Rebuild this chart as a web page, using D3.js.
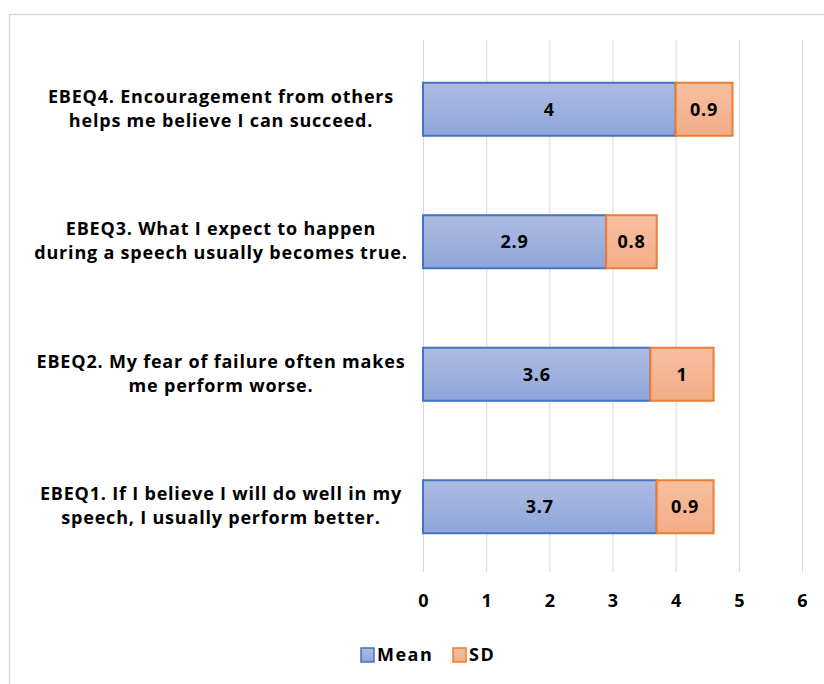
<!DOCTYPE html>
<html><head><meta charset="utf-8">
<script src="https://cdn.jsdelivr.net/npm/d3@7"></script>
<style>body{margin:0;background:#fff;} text{font-family:"Open Sans",sans-serif;font-weight:bold;fill:#000;letter-spacing:0.8px;}</style>
</head><body><svg id="c" width="824" height="684"></svg>
<script>
const categories = [
  ["EBEQ1. If I believe I will do well in my","speech, I usually perform better."],
  ["EBEQ2. My fear of failure often makes","me perform worse."],
  ["EBEQ3. What I expect to happen","during a speech usually becomes true."],
  ["EBEQ4. Encouragement from others","helps me believe I can succeed."]
];
const meanValues = [3.7, 3.6, 2.9, 4];
const sdValues = [0.9, 1, 0.8, 0.9];
const xTicks = [0,1,2,3,4,5,6];
const seriesNames = ["Mean","SD"];

const svg = d3.select("#c");
const defs = svg.append("defs");
const g1 = defs.append("linearGradient").attr("id","gm").attr("x1",0).attr("y1",0).attr("x2",0).attr("y2",1);
g1.append("stop").attr("offset","0%").attr("stop-color","#aebbe2");
g1.append("stop").attr("offset","100%").attr("stop-color","#8fa6d9");
const g2 = defs.append("linearGradient").attr("id","gs").attr("x1",0).attr("y1",0).attr("x2",0).attr("y2",1);
g2.append("stop").attr("offset","0%").attr("stop-color","#f7bfa0");
g2.append("stop").attr("offset","100%").attr("stop-color","#f3ad88");

// frame
svg.append("rect").attr("x",9.5).attr("y",14.5).attr("width",830).attr("height",700).attr("fill","none").attr("stroke","#d9d9d9").attr("stroke-width",1.5);

const x = d3.scaleLinear().domain([0,6]).range([423,802]);
const y = d3.scaleBand().domain([3,2,1,0]).range([43,573]).paddingInner(0.6).paddingOuter(0.3);

// gridlines
svg.append("g").selectAll("line").data(xTicks).join("line")
  .attr("x1",d=>x(d)+0.5).attr("x2",d=>x(d)+0.5).attr("y1",40).attr("y2",572)
  .attr("stroke","#d9d9d9").attr("stroke-width",1);

// axis labels
const ax = svg.append("g").attr("transform","translate(0,572)")
  .call(d3.axisBottom(x).tickValues(xTicks).tickSize(0).tickPadding(22).tickFormat(d3.format("d")));
ax.select(".domain").remove();
ax.selectAll("text").attr("font-size",18).style("font-family","'Open Sans',sans-serif").style("font-weight","bold").style("letter-spacing","0px");

const data = meanValues.map((m,i)=>({i, m, s: sdValues[i]}));
const bars = svg.append("g");
bars.selectAll("rect.m").data(data).join("rect").attr("class","m")
  .attr("x",x(0)).attr("y",d=>y(d.i)).attr("width",d=>x(d.m)-x(0)).attr("height",y.bandwidth())
  .attr("fill","url(#gm)").attr("stroke","#4472c4").attr("stroke-width",2);
bars.selectAll("rect.s").data(data).join("rect").attr("class","s")
  .attr("x",d=>x(d.m)).attr("y",d=>y(d.i)).attr("width",d=>x(d.m+d.s)-x(d.m)).attr("height",y.bandwidth())
  .attr("fill","url(#gs)").attr("stroke","#ed7d31").attr("stroke-width",2);
bars.selectAll("text.m").data(data).join("text").attr("class","m")
  .attr("x",d=>(x(0)+x(d.m))/2).attr("y",d=>y(d.i)+y.bandwidth()/2).attr("dy","0.35em")
  .attr("text-anchor","middle").attr("font-size",18).text(d=>d.m);
bars.selectAll("text.s").data(data).join("text").attr("class","s")
  .attr("x",d=>(x(d.m)+x(d.m+d.s))/2).attr("y",d=>y(d.i)+y.bandwidth()/2).attr("dy","0.35em")
  .attr("text-anchor","middle").attr("font-size",18).text(d=>d.s);

// category labels
const cl = svg.append("g");
categories.forEach((lines,i)=>{
  const cy = y(i)+y.bandwidth()/2;
  const t = cl.append("text").attr("text-anchor","middle").attr("font-size",18);
  lines.forEach((ln,k)=>{
    t.append("tspan").attr("x",221).attr("y",cy + (k-0.5)*24 - 1).attr("dy","0.35em").text(ln);
  });
});

// legend
const leg = svg.append("g").attr("transform","translate(360,655)");
const items = [{n:seriesNames[0],f:"url(#gm)",s:"#4472c4",dx:0},{n:seriesNames[1],f:"url(#gs)",s:"#ed7d31",dx:92}];
items.forEach(it=>{
  leg.append("rect").attr("x",it.dx+1).attr("y",-7).attr("width",13).attr("height",14).attr("fill",it.f).attr("stroke",it.s).attr("stroke-width",1.5);
  leg.append("text").attr("x",it.dx+17).attr("y",0).attr("dy","0.35em").attr("font-size",18).style("letter-spacing","1.5px").text(it.n);
});
</script></body></html>
